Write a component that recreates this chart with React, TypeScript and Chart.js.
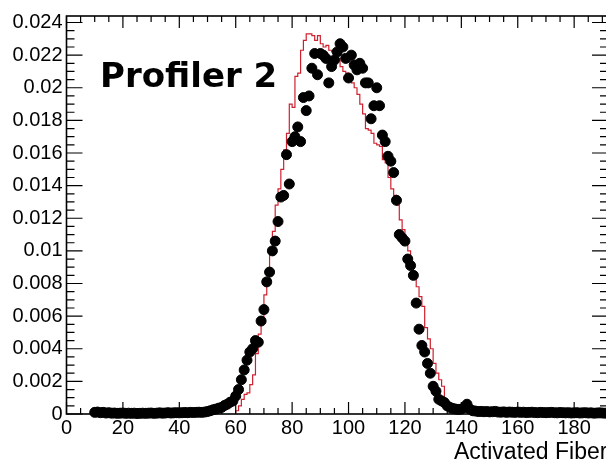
import { useEffect, useRef } from 'react';
import { Chart, registerables } from 'chart.js';

Chart.register(...registerables);

// ---------- data ----------
const chartLabel = 'Profiler 2';
const xAxisTitle = 'Activated Fiber';

const xTickValues = [0, 20, 40, 60, 80, 100, 120, 140, 160, 180];
const xTickLabels = ['0', '20', '40', '60', '80', '100', '120', '140', '160', '180'];
const yTickValues = [0, 0.002, 0.004, 0.006, 0.008, 0.01, 0.012, 0.014, 0.016, 0.018, 0.02, 0.022, 0.024];
const yTickLabels = ['0', '0.002', '0.004', '0.006', '0.008', '0.01', '0.012', '0.014', '0.016', '0.018', '0.02', '0.022', '0.024'];

// simulated histogram (red), one bin per fiber, first bin low edge = 60
const histFirstBin = 60;
const histValues = [
  0.0002, 0.0005, 0.0009, 0.0012, 0.0013, 0.0018, 0.0024, 0.0037, 0.0049, 0.0058,
  0.0073, 0.0081, 0.0098, 0.0112, 0.0128, 0.0138, 0.0150, 0.0162, 0.0172, 0.0190,
  0.0188, 0.0207, 0.0209, 0.0223, 0.0229, 0.0233, 0.0233, 0.0232, 0.0229, 0.0232,
  0.0227, 0.0225, 0.0226, 0.0223, 0.0222, 0.0223, 0.0218, 0.0213, 0.0210, 0.0209,
  0.0207, 0.0203, 0.0200, 0.0196, 0.0190, 0.0184, 0.0175, 0.0174, 0.0172, 0.0166,
  0.0165, 0.0164, 0.0156, 0.0154, 0.0145, 0.0138, 0.0134, 0.0128, 0.0119, 0.0113,
  0.0106, 0.0100, 0.0090, 0.0084, 0.0078, 0.0072, 0.0066, 0.0053, 0.0046, 0.0040,
  0.0031, 0.0025, 0.0021, 0.0017, 0.0009, 0.0003,
];

// measured profile (black dots), one value per fiber starting at fiber 10
const dotFirstFiber = 10;
const dotValues = [
  0.00010, 0.00012, 0.00008, 0.00010, 0.00006, 0.00008, 0.00005, 0.00006, 0.00004, 0.00005,
  0.00006, 0.00004, 0.00005, 0.00004, 0.00005, 0.00003, 0.00004, 0.00005, 0.00004, 0.00005,
  0.00006, 0.00004, 0.00005, 0.00007, 0.00005, 0.00006, 0.00008, 0.00006, 0.00007, 0.00008,
  0.00007, 0.00008, 0.00009, 0.00008, 0.00010, 0.00009, 0.00010, 0.00011, 0.00010, 0.00012,
  0.00015, 0.00020, 0.00026, 0.00030, 0.00036, 0.00040, 0.00052, 0.00060, 0.00072, 0.00080,
  0.0011, 0.0015, 0.0021, 0.0027, 0.0033, 0.0038, 0.0040, 0.0045, 0.0044, 0.0057,
  0.0064, 0.0081, 0.0087, 0.0100, 0.0106, 0.0118, 0.0133, 0.0134, 0.0159, 0.0141,
  0.0167, 0.0170, 0.0176, 0.0167, 0.0194, 0.0186, 0.0195, 0.0212, 0.0221, 0.0208,
  0.0221, 0.0220, 0.0218, 0.0203, 0.0213, 0.0217, 0.0222, 0.0227, 0.0225, 0.0218,
  0.0206, 0.0220, 0.0214, 0.0211, 0.0215, 0.0212, 0.0203, 0.0203, 0.0181, 0.0189,
  0.0200, 0.0189, 0.0171, 0.0167, 0.0158, 0.0155, 0.0148, 0.0131, 0.0110, 0.0108,
  0.0106, 0.0095, 0.0091, 0.0085, 0.0068, 0.0052, 0.0042, 0.0038, 0.0031, 0.0025,
  0.0017, 0.0014, 0.0009, 0.0008, 0.0007, 0.0005, 0.0004, 0.00034, 0.00030, 0.00028,
  0.00030, 0.00040, 0.00060, 0.00030, 0.00020, 0.00018, 0.00015, 0.00016, 0.00014, 0.00015,
  0.00013, 0.00014, 0.00016, 0.00012, 0.00011, 0.00013, 0.00010, 0.00012, 0.00011, 0.00010,
  0.00012, 0.00010, 0.00011, 0.00009, 0.00010, 0.00011, 0.00009, 0.00008, 0.00010, 0.00009,
  0.00008, 0.00009, 0.00010, 0.00008, 0.00007, 0.00009, 0.00008, 0.00007, 0.00008, 0.00006,
  0.00007, 0.00008, 0.00006, 0.00007, 0.00008, 0.00006, 0.00007, 0.00005, 0.00006, 0.00007,
  0.00006, 0.00005,
];

const X_MIN = 0;
const X_MAX = 192;
const Y_MIN = 0;
const Y_MAX = 0.0244;

// ---------- helpers ----------
function buildHistPoints() {
  const pts: { x: number; y: number }[] = [{ x: histFirstBin, y: 0 }];
  histValues.forEach((v, i) => pts.push({ x: histFirstBin + i, y: v }));
  pts.push({ x: histFirstBin + histValues.length, y: 0 });
  return pts;
}

function buildDotPoints() {
  return dotValues.map((v, i) => ({ x: dotFirstFiber + i, y: v }));
}

const CANVAS_W = 614;
const CANVAS_H = 462;
const FONT = "'Liberation Sans', Arial, Helvetica, sans-serif";

const rootFramePlugin = {
  id: 'rootFrame',
  afterDatasetsDraw(chart: any) {
    const { ctx, chartArea: a, scales } = chart;
    const xs = scales.x;
    const ys = scales.y;
    ctx.save();
    ctx.strokeStyle = '#000';
    ctx.lineWidth = 1.2;
    ctx.beginPath();
    // x ticks (bottom and top), minor every 5, major every 20
    for (let i = 0; i * 5 <= X_MAX; i++) {
      const v = i * 5;
      const px = xs.getPixelForValue(v);
      const len = v % 20 === 0 ? 12 : 6;
      ctx.moveTo(px, a.bottom);
      ctx.lineTo(px, a.bottom - len);
      ctx.moveTo(px, a.top);
      ctx.lineTo(px, a.top + len);
    }
    // y ticks (left and right), minor every 0.0005, major every 0.002
    for (let i = 0; i * 0.0005 <= Y_MAX + 1e-9; i++) {
      const py = ys.getPixelForValue(i * 0.0005);
      const len = i % 4 === 0 ? 16 : 8;
      ctx.moveTo(a.left, py);
      ctx.lineTo(a.left + len, py);
      ctx.moveTo(a.right, py);
      ctx.lineTo(a.right - len, py);
    }
    ctx.stroke();
    ctx.lineWidth = 1.6;
    ctx.strokeRect(a.left, a.top, a.right - a.left, a.bottom - a.top);
    ctx.restore();
  },
  afterDraw(chart: any) {
    const { ctx } = chart;
    ctx.save();
    ctx.fillStyle = '#000';
    ctx.textBaseline = 'alphabetic';
    ctx.textAlign = 'left';
    ctx.font = "bold 34px 'DejaVu Sans', sans-serif";
    ctx.fillText(chartLabel, 100, 87);
    ctx.font = `23px ${FONT}`;
    ctx.fillText(xAxisTitle, 454, 459);
    ctx.restore();
  },
};

export default function App() {
  const ref = useRef<HTMLCanvasElement>(null);

  useEffect(() => {
    if (!ref.current) return;
    Chart.defaults.font.family = FONT;
    const chart = new Chart(ref.current, {
      type: 'scatter',
      data: {
        datasets: [
          {
            label: 'data',
            data: buildDotPoints(),
            backgroundColor: '#000',
            borderColor: '#000',
            pointRadius: 5,
            pointHoverRadius: 5,
            showLine: false,
            clip: false as any,
            order: 0,
          },
          {
            label: 'simulation',
            data: buildHistPoints(),
            borderColor: '#d0202e',
            backgroundColor: '#d0202e',
            borderWidth: 1.2,
            pointRadius: 0,
            showLine: true,
            stepped: 'before',
            fill: false,
            order: 1,
          } as any,
        ],
      },
      options: {
        animation: false,
        responsive: false,
        maintainAspectRatio: false,
        devicePixelRatio: 1,
        layout: { padding: { top: 8, right: CANVAS_W - 610.6, left: 0, bottom: 0 } },
        plugins: {
          legend: { display: false },
          tooltip: { enabled: false },
          title: { display: false },
        },
        scales: {
          x: {
            type: 'linear',
            min: X_MIN,
            max: X_MAX,
            grid: { display: false, drawTicks: false },
            border: { display: false },
            afterFit: (s: any) => {
              s.height = 48;
            },
            afterBuildTicks: (s: any) => {
              s.ticks = xTickValues.map((v) => ({ value: v }));
            },
            ticks: {
              padding: 2,
              color: '#000',
              font: { size: 20, family: FONT },
              maxRotation: 0,
              autoSkip: false,
              callback: (value: any) => {
                const i = xTickValues.indexOf(Number(value));
                return i >= 0 ? xTickLabels[i] : '';
              },
            },
          },
          y: {
            type: 'linear',
            min: Y_MIN,
            max: Y_MAX,
            grid: { display: false, drawTicks: false },
            border: { display: false },
            afterFit: (s: any) => {
              s.width = 66.5;
            },
            afterBuildTicks: (s: any) => {
              s.ticks = yTickValues.map((v) => ({ value: v }));
            },
            ticks: {
              padding: 4,
              color: '#000',
              font: { size: 20, family: FONT },
              autoSkip: false,
              callback: (value: any) => {
                const v = Number(value);
                const i = yTickValues.findIndex((t) => Math.abs(t - v) < 1e-9);
                return i >= 0 ? yTickLabels[i] : '';
              },
            },
          },
        },
      },
      plugins: [rootFramePlugin],
    } as any);
    return () => chart.destroy();
  }, []);

  return (
    <div
      style={{
        position: 'fixed',
        left: 0,
        top: 0,
        width: 606,
        height: 462,
        overflow: 'hidden',
        background: '#fff',
      }}
    >
      <canvas
        ref={ref}
        width={CANVAS_W}
        height={CANVAS_H}
        style={{ display: 'block', width: CANVAS_W, height: CANVAS_H }}
      />
    </div>
  );
}
